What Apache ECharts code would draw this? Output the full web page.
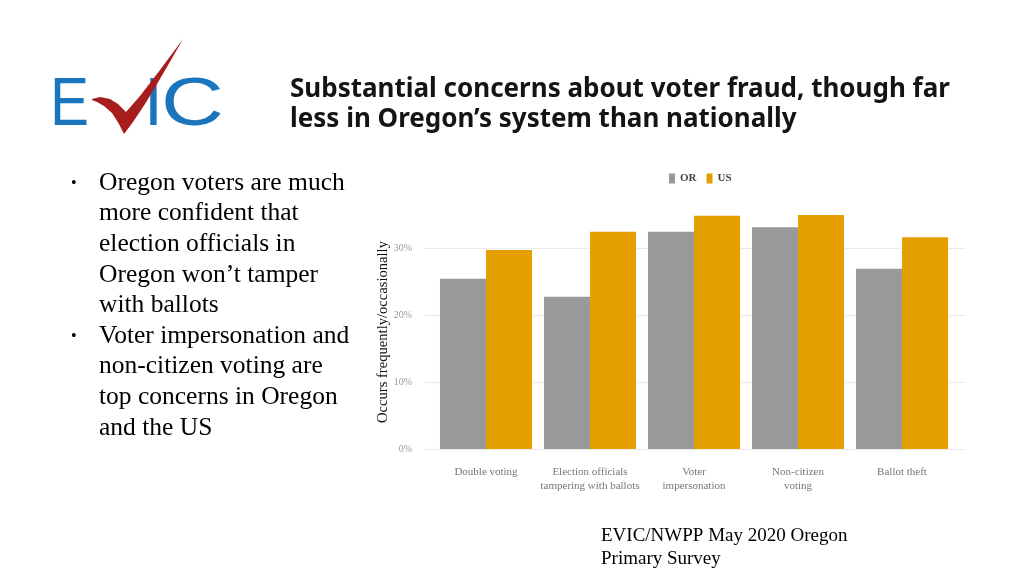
<!DOCTYPE html>
<html><head><meta charset="utf-8">
<script src="https://cdn.jsdelivr.net/npm/echarts@6/dist/echarts.min.js"></script>
<style>html,body{margin:0;padding:0;background:#fff}#c{width:1024px;height:576px}</style>
</head><body><div id="c"></div>
<script>
const categories = ['Double voting', 'Election officials\ntampering with ballots', 'Voter\nimpersonation', 'Non-citizen\nvoting', 'Ballot theft'];
const seriesNames = ['OR', 'US'];
const orValues = [25.4, 22.7, 32.4, 33.1, 26.9];
const usValues = [29.7, 32.4, 34.8, 34.9, 31.6];
const yTicks = [0, 10, 20, 30];
const yAxisTitle = 'Occurs frequently/occasionally';
const titleLines = ['Substantial concerns about voter fraud, though far', 'less in Oregon’s system than nationally'];
const bullet1 = ['Oregon voters are much', 'more confident that', 'election officials in', 'Oregon won’t tamper', 'with ballots'];
const bullet2 = ['Voter impersonation and', 'non-citizen voting are', 'top concerns in Oregon', 'and the US'];
const sourceLines = ['EVIC/NWPP May 2020 Oregon', 'Primary Survey'];

const serif = '"Liberation Serif", "DejaVu Serif", serif';
const Y_MAX = 37;
const graphics = [];
titleLines.forEach((t, i) => graphics.push({type:'text', style:{text:t, x:290, y:90 + i*30, font:'bold 26px "Noto Sans", sans-serif', fill:'#141414', textVerticalAlign:'middle'}}));
const allBullets = [...bullet1, ...bullet2];
allBullets.forEach((t, i) => graphics.push({type:'text', style:{text:t, x:99, y:183 + i*30.6, font:'25.5px ' + serif, fill:'#000', textVerticalAlign:'middle'}}));
[0, bullet1.length].forEach(i => graphics.push({type:'text', style:{text:'•', x:71, y:184 + i*30.6, font:'16px ' + serif, fill:'#000', textVerticalAlign:'middle'}}));
sourceLines.forEach((t, i) => graphics.push({type:'text', style:{text:t, x:601, y:536 + i*23.5, font:'19px ' + serif, fill:'#000', textVerticalAlign:'middle'}}));
graphics.push({type:'text', x:383, y:332, rotation:Math.PI/2, style:{text:yAxisTitle, x:0, y:0, font:'14.6px ' + serif, fill:'#111', textAlign:'center', textVerticalAlign:'middle'}});
// logo
const logoFont = '68px "Liberation Sans", Arial, sans-serif';
graphics.push({type:'text', x:50, y:106, scaleX:0.86, style:{text:'E', x:0, y:0, font:logoFont, fill:'#1b75bc', textVerticalAlign:'middle'}});
graphics.push({type:'text', x:144, y:106, style:{text:'I', x:0, y:0, font:logoFont, fill:'#1b75bc', textVerticalAlign:'middle'}});
graphics.push({type:'text', x:161, y:106, scaleX:1.28, style:{text:'C', x:0, y:0, font:logoFont, fill:'#1b75bc', textVerticalAlign:'middle'}});
graphics.push({type:'polygon', shape:{points:[[92,99],[100,97],[110,99],[118,104],[126,112],[140,96],[160,70],[183,39],[171,60],[157,84],[145,104],[133,122],[124,134],[119,124],[112,113],[104,106],[97,102],[92,100]]}, style:{fill:'#a71d1d'}});

const chart = echarts.init(document.getElementById('c'));
chart.setOption({
  animation:false,
  graphic: graphics,
  legend:{data:seriesNames, left:664, top:168, icon:'rect', itemWidth:6, itemHeight:10, itemGap:10,
    textStyle:{fontFamily:serif, fontSize:11, color:'#444', fontWeight:'bold'}},
  grid:[
    {left:434, width:520, top:201, height:248},
    {left:424, width:541, top:201, height:248}
  ],
  xAxis:[
    {type:'category', gridIndex:0, data:categories, axisLine:{show:false}, axisTick:{show:false},
      axisLabel:{fontFamily:serif, fontSize:11, color:'#777', margin:16, lineHeight:14, interval:0}},
    {type:'value', gridIndex:1, min:0, max:1, show:false}
  ],
  yAxis:[
    {type:'value', gridIndex:0, min:0, max:Y_MAX, show:false, splitLine:{show:false}},
    {type:'value', gridIndex:1, min:0, max:Y_MAX, interval:10,
      axisLine:{show:false}, axisTick:{show:false},
      axisLabel:{fontFamily:serif, fontSize:10, color:'#999', margin:12,
        formatter:v => yTicks.includes(v) ? v + '%' : ''},
      splitLine:{lineStyle:{color:['#ebebeb','#ebebeb','#ebebeb','#ebebeb','rgba(0,0,0,0)'], width:1}}}
  ],
  series:[
    {name:seriesNames[0], type:'bar', xAxisIndex:0, yAxisIndex:0, data:orValues, barGap:'0%', barCategoryGap:'11.5%', itemStyle:{color:'#999999'}},
    {name:seriesNames[1], type:'bar', xAxisIndex:0, yAxisIndex:0, data:usValues, barGap:'0%', barCategoryGap:'11.5%', itemStyle:{color:'#e69f00'}}
  ]
});
</script></body></html>
